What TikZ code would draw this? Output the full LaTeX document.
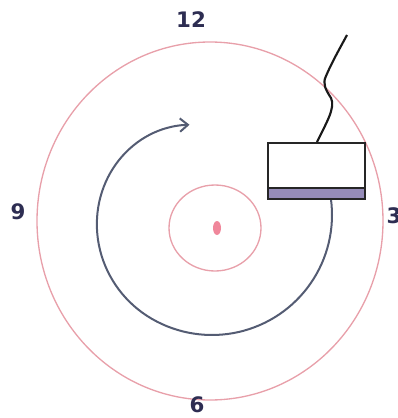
\documentclass[tikz,border=0pt]{standalone}
\usepackage{fontspec}
\setmainfont{DejaVu Sans}
\usetikzlibrary{arrows.meta}
\definecolor{ringpink}{RGB}{232,160,170}
\definecolor{dotpink}{RGB}{240,135,155}
\definecolor{spiralc}{RGB}{84,92,115}
\definecolor{numc}{RGB}{45,45,82}
\definecolor{bandc}{RGB}{150,140,185}
\begin{document}
\begin{tikzpicture}[x=0.75pt,y=-0.75pt]
  \tikzset{num/.style={font=\fontsize{16}{18}\selectfont\bfseries,text=numc,inner sep=0pt},
    ring/.style={draw=ringpink,line width=1pt},
    head/.style={draw=black!85,line width=1.4pt,fill=white,minimum width=72.75pt,minimum height=42pt,inner sep=0pt}}
  \useasboundingbox (0,0) rectangle (398,418);
  % disc
  \draw[ring] (210,221) ellipse[x radius=173,y radius=179];
  \draw[ring] (215,228) ellipse[x radius=46,y radius=43];
  \fill[dotpink] (217,228) ellipse[x radius=4,y radius=7];
  % hour numbers
  \node[num] (n12) at (191,20) {12};
  \node[num] (n9) at (18,212) {9};
  \node[num] (n3) at (394,216) {3};
  \node[num] (n6) at (197,405) {6};
  % rotation
  \draw[spiralc,line width=1.5pt,-{Straight Barb[length=6pt,width=10pt]}]
    plot[domain=8:-256,samples=100,variable=\t]
    ({212+(120-27*(max(0,-120-\t)/136)^2)*cos(\t)},{215-(120-27*(max(0,-120-\t)/136)^2)*sin(\t)});
  % reading head
  \node[head] (hd) at (316.5,171) {};
  \fill[bandc] (269,188) rectangle (364,198);
  \draw[black!85,line width=1.2pt] (269,188) -- (364,188);
  \coordinate (wend) at (347,35);
  \draw[black!90,line width=1.6pt] (hd.north) ++(0.5,0) .. controls (325,125) and (336,108) .. (331,98)
    .. controls (326,90) and (322,84) .. (326,76) .. controls (332,62) and (340,48) .. (wend);
\end{tikzpicture}
\end{document}
